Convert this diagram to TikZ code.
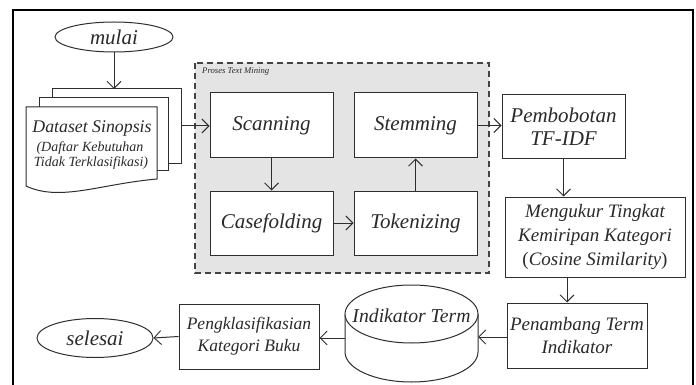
\documentclass[tikz,border=0pt]{standalone}
\usepackage{fontspec}
\setmainfont{Liberation Serif}
\usetikzlibrary{arrows.meta,shapes.geometric}
\definecolor{ln}{HTML}{2E2E2E}
\definecolor{tx}{HTML}{2A2A2A}
\definecolor{grayfill}{HTML}{E3E4E3}
\tikzset{
  box/.style={draw=ln, line width=1pt, fill=white, inner sep=1pt, text=tx, align=center, font=\itshape\fontsize{21}{23}\selectfont},
  oval/.style={ellipse, draw=ln, line width=1pt, fill=white, inner sep=0pt, text=tx, font=\itshape\fontsize{21}{23}\selectfont},
  conn/.style={draw=ln, line width=1pt, -{Straight Barb[length=7pt,width=14pt,line width=0.9pt]}},
  doc/.style={draw=ln, line width=1pt, fill=white},
}
\begin{document}
\begin{tikzpicture}[x=1pt,y=-1pt]
\useasboundingbox (0,0) rectangle (696,385);
% outer frame
\draw[line width=2.5pt, black] (13,390) -- (13,10) -- (693,10) -- (693,390);

% gray process region
\draw[fill=grayfill, draw=ln!90, line width=1.1pt, dash pattern=on 6pt off 4pt] (195,63) rectangle (489,273);
\node[anchor=west, text=tx, font=\itshape\fontsize{8.7}{10}\selectfont, inner sep=0pt] (ptm) at (202,72) {Proses Text Mining};

% start
\node[oval, minimum width=118pt, minimum height=30pt] (mulai) at (114,37) {mulai};

% document stack
\draw[doc] (52,89) rectangle (181,163);
\draw[doc] (39,98) rectangle (168,170);
\draw[doc] (26,107) -- (157,107) -- (157,179) .. controls (100,184) and (60,202) .. (26,186) -- cycle;
\coordinate (docTop) at (114,89);
\coordinate (docRight) at (181,126);
\node[anchor=base, text=tx, font=\itshape\fontsize{17.8}{20}\selectfont, inner sep=0pt] (d1) at (92,132) {Dataset Sinopsis};
\node[anchor=base, text=tx, font=\itshape\fontsize{14}{16}\selectfont, inner sep=0pt] (d2) at (90,152) {(Daftar Kebutuhan};
\node[anchor=base, text=tx, font=\itshape\fontsize{14}{16}\selectfont, inner sep=0pt] (d3) at (91,167) {Tidak Terklasifikasi)};

% process boxes
\node[box, minimum width=123pt, minimum height=65pt] (scan) at (271.5,125.5) {Scanning};
\node[box, minimum width=123pt, minimum height=64pt] (case) at (271.5,223) {Casefolding};
\node[box, minimum width=123pt, minimum height=65pt] (stem) at (415.5,125.5) {Stemming};
\node[box, minimum width=123pt, minimum height=64pt] (token) at (415.5,223) {Tokenizing};

\node[box, minimum width=123pt, minimum height=64pt] (pemb) at (563.5,127) {Pembobotan\\TF-IDF};
\node[box, minimum width=180pt, minimum height=80pt, font=\itshape\fontsize{19}{24}\selectfont] (meng) at (595,237) {Mengukur Tingkat\\Kemiripan Kategori\\{\upshape(}Cosine Similarity{\upshape)}};
\node[box, minimum width=140pt, minimum height=65pt, font=\itshape\fontsize{19}{23}\selectfont] (penam) at (577,335.5) {Penambang Term\\Indikator};

% cylinder
\node[minimum width=133pt, minimum height=97pt, inner sep=0pt] (cyl) at (411.5,333.5) {};
\draw[doc] (345,314) -- (345,352) arc[start angle=180, end angle=360, x radius=66.5pt, y radius=30pt] -- (478,314);
\draw[doc] (411.5,314) ellipse [x radius=66.5pt, y radius=29pt];
\node[text=tx, font=\itshape\fontsize{19.7}{22}\selectfont, inner sep=0pt] (cyltext) at (411.5,316) {Indikator Term};

\node[box, minimum width=140pt, minimum height=65pt, font=\itshape\fontsize{17.5}{22}\selectfont] (pengk) at (249,336.5) {Pengklasifikasian\\Kategori Buku};
\node[oval, minimum width=116pt, minimum height=39pt] (selesai) at (95,338) {selesai};

% connectors
\draw[conn] (mulai) -- (docTop);
\draw[conn] (docRight) -- (docRight -| scan.west);
\draw[conn] (scan) -- (case);
\draw[conn] (case) -- (token);
\draw[conn] (token) -- (stem);
\draw[conn] (stem.east) -- (stem.east -| pemb.west);
\draw[conn] (pemb.south) -- (pemb.south |- meng.north);
\draw[conn] ([xshift=-28pt]meng.south) -- ([xshift=-28pt]meng.south |- penam.north);
\draw[conn] ([yshift=-1.5pt]penam.west) -- ([yshift=-1.5pt]penam.west -| cyl.east);
\draw[conn] ([yshift=-1.5pt]pengk.east -| cyl.west) -- ([yshift=-1.5pt]pengk.east);
\draw[conn] (pengk.west) -- (selesai.east);
\end{tikzpicture}
\end{document}
